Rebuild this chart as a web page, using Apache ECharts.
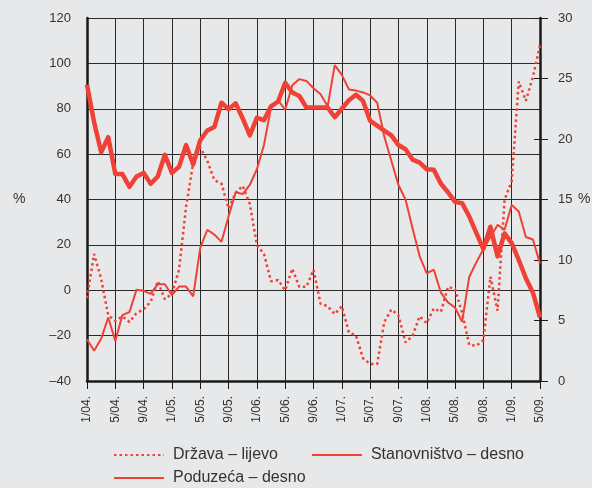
<!DOCTYPE html>
<html>
<head>
<meta charset="utf-8">
<script src="https://cdn.jsdelivr.net/npm/echarts@6/dist/echarts.min.js"></script>
<style>
  html, body { margin: 0; padding: 0; background: #e7e8ea; }
  #chart { width: 592px; height: 488px; }
</style>
</head>
<body>
<div id="chart"></div>
<script>
// months 1/04. .. 5/09.
var months = [
  '1/04.', '2/04.', '3/04.', '4/04.', '5/04.', '6/04.', '7/04.', '8/04.', '9/04.', '10/04.', '11/04.', '12/04.',
  '1/05.', '2/05.', '3/05.', '4/05.', '5/05.', '6/05.', '7/05.', '8/05.', '9/05.', '10/05.', '11/05.', '12/05.',
  '1/06.', '2/06.', '3/06.', '4/06.', '5/06.', '6/06.', '7/06.', '8/06.', '9/06.', '10/06.', '11/06.', '12/06.',
  '1/07.', '2/07.', '3/07.', '4/07.', '5/07.', '6/07.', '7/07.', '8/07.', '9/07.', '10/07.', '11/07.', '12/07.',
  '1/08.', '2/08.', '3/08.', '4/08.', '5/08.', '6/08.', '7/08.', '8/08.', '9/08.', '10/08.', '11/08.', '12/08.',
  '1/09.', '2/09.', '3/09.', '4/09.', '5/09.'
];

// Država – lijevo (left axis, %)
var drzava = [
  -3.5, 16, 5, -11, -13.5, -11.5, -14, -10, -8.5, -5, 4, -4,
  -1.5, 9, 37, 56, 63, 57, 48.5, 47, 36, 43, 46, 38,
  20, 16, 4, 4.5, 0, 9.5, 1.5, 1.5, 9, -6, -7, -10.5,
  -7, -18.5, -20, -30, -32.5, -32.5, -14, -8.5, -11, -23, -20, -11.5,
  -14.5, -8, -9.5, 1.5, 0.5, -10, -24, -24.5, -22, 6, -9, 40,
  48, 92, 83.5, 94, 108
];

// Stanovništvo – desno (right axis, %)
var stanovnistvo = [
  24.5, 21.4, 18.9, 20.15, 17.1, 17.1, 16.05, 16.9, 17.2, 16.3, 16.9, 18.7,
  17.2, 17.7, 19.5, 17.9, 19.9, 20.7, 21.0, 23.0, 22.45, 22.95, 21.7, 20.3,
  21.75, 21.55, 22.7, 23.1, 24.65, 23.85, 23.55, 22.6, 22.6, 22.6, 22.6, 21.8,
  22.5, 23.2, 23.65, 23.15, 21.5, 21.1, 20.7, 20.3, 19.5, 19.15, 18.3, 18.05,
  17.5, 17.45, 16.3, 15.6, 14.8, 14.7, 13.6, 12.25, 10.9, 12.75, 10.3, 12.2,
  11.4, 10.0, 8.5, 7.3, 5.25
];

// Poduzeća – desno (right axis, %)
var poduzeca = [
  3.45, 2.5, 3.5, 5.25, 3.3, 5.45, 5.7, 7.55, 7.45, 7.2, 8.0, 8.0,
  7.1, 7.8, 7.8, 7.0, 11.0, 12.5, 12.1, 11.5, 13.6, 15.6, 15.45, 16.2,
  17.5, 19.5, 22.6, 23.2, 22.4, 24.45, 24.95, 24.8, 24.2, 23.7, 22.7, 26.1,
  25.3, 24.1, 24.0, 23.85, 23.6, 23.0, 20.2, 18.2, 16.2, 15.0, 12.6, 10.3,
  8.9, 9.2, 7.3, 6.5, 6.05, 4.9, 8.6, 9.8, 10.9, 11.9, 12.9, 12.5,
  14.55, 14.0, 11.9, 11.7, 9.7
];

var red = '#ef4135';
var font = '"Liberation Sans", Arial, Helvetica, sans-serif';
var ink = '#333';
var axisInk = '#1a1a1a';

var chart = echarts.init(document.getElementById('chart'));

chart.setOption({
  backgroundColor: '#e7e8ea',
  animation: false,
  textStyle: { fontFamily: font },
  grid: { left: 87, right: 52, top: 18, bottom: 107 },
  legend: [
    {
      left: 113, top: 447, padding: 0,
      itemWidth: 50, itemHeight: 14, itemGap: 33,
      itemStyle: { opacity: 0 },
      data: ['Država – lijevo', 'Stanovništvo – desno'],
      textStyle: { fontSize: 16, color: ink, fontFamily: font, padding: [0, 0, 0, 4] }
    },
    {
      left: 113, top: 470, padding: 0,
      itemWidth: 50, itemHeight: 14,
      itemStyle: { opacity: 0 },
      data: ['Poduzeća – desno'],
      textStyle: { fontSize: 16, color: ink, fontFamily: font, padding: [0, 0, 0, 4] }
    }
  ],
  graphic: [
    { type: 'text', left: 13, top: 192, style: { text: '%', fontSize: 14, fill: ink, fontFamily: font } },
    { type: 'text', left: 578, top: 192, style: { text: '%', fontSize: 14, fill: ink, fontFamily: font } }
  ],
  xAxis: {
    type: 'category',
    data: months,
    boundaryGap: false,
    axisLine: { onZero: false, lineStyle: { color: axisInk, width: 2.5 } },
    axisTick: { show: true, interval: 3, length: 8, lineStyle: { color: axisInk } },
    axisLabel: { interval: 3, rotate: 90, fontSize: 12, color: ink, margin: 15, fontFamily: font },
    splitLine: { show: true, interval: 3, lineStyle: { color: '#2a2a2a', width: 1 } }
  },
  yAxis: [
    {
      type: 'value', position: 'left',
      min: -40, max: 120, interval: 20,
      axisLine: { show: true, lineStyle: { color: axisInk, width: 2.5 } },
      axisTick: { show: false },
      axisLabel: {
        fontSize: 13, color: ink, margin: 16, fontFamily: font,
        formatter: function (v) { return String(v).replace('-', '–'); }
      },
      splitLine: { show: true, lineStyle: { color: '#2a2a2a', width: 1 } }
    },
    {
      type: 'value', position: 'right',
      min: 0, max: 30, interval: 5,
      axisLine: { show: true, lineStyle: { color: axisInk, width: 2.5 } },
      axisTick: { show: true, length: 8, lineStyle: { color: axisInk } },
      axisLabel: { fontSize: 13, color: ink, margin: 18, fontFamily: font },
      splitLine: { show: false }
    },
    {
      // inside half of the right-axis ticks
      type: 'value', position: 'right',
      min: 0, max: 30, interval: 5,
      axisLine: { show: false },
      axisTick: { show: true, inside: true, length: 6, lineStyle: { color: axisInk } },
      axisLabel: { show: false },
      splitLine: { show: false }
    }
  ],
  series: [
    {
      name: 'Država – lijevo', type: 'line', yAxisIndex: 0,
      data: drzava, symbol: 'none', color: red,
      lineStyle: { width: 2.5, type: [2.5, 3], color: red }
    },
    {
      name: 'Poduzeća – desno', type: 'line', yAxisIndex: 1,
      data: poduzeca, symbol: 'none', color: red,
      lineStyle: { width: 2, color: red }
    },
    {
      name: 'Stanovništvo – desno', type: 'line', yAxisIndex: 1,
      data: stanovnistvo, symbol: 'none', color: red,
      lineStyle: { width: 4.5, color: red, join: 'round' }
    }
  ]
});
</script>
</body>
</html>
